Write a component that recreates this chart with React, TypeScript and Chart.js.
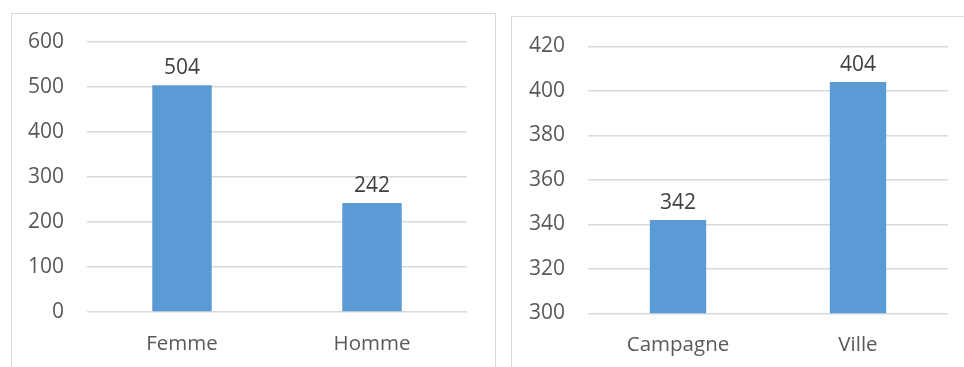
import React, { useEffect, useRef } from "react";
import { Chart, registerables } from "chart.js";

Chart.register(...registerables);

const genderLabels = ["Femme", "Homme"];
const genderValues = [504, 242];
const genderTicks = { min: 0, max: 600, step: 100 };

const areaLabels = ["Campagne", "Ville"];
const areaValues = [342, 404];
const areaTicks = { min: 300, max: 420, step: 20 };

const FONT = "'Open Sans', 'Liberation Sans', sans-serif";
const BAR_COLOR = "#5b9bd5";
const GRID_COLOR = "#d9d9d9";
const TICK_COLOR = "#595959";
const LABEL_COLOR = "#404040";

const valueLabelPlugin = {
  id: "valueLabels",
  afterDatasetsDraw(chart: any) {
    const ctx = chart.ctx;
    ctx.save();
    ctx.font = `21px ${FONT}`;
    ctx.fillStyle = LABEL_COLOR;
    ctx.textAlign = "center";
    ctx.textBaseline = "alphabetic";
    chart.data.datasets.forEach((ds: any, di: number) => {
      const meta = chart.getDatasetMeta(di);
      meta.data.forEach((bar: any, i: number) => {
        ctx.fillText(String(ds.data[i]), bar.x, bar.y - 11);
      });
    });
    ctx.restore();
  },
};

type BarProps = {
  labels: string[];
  values: number[];
  ticks: { min: number; max: number; step: number };
  left: number;
  top: number;
  width: number;
  height: number;
  padRight: number;
  padTop: number;
  axisW: number;
  axisH: number;
};

function BarChart(p: BarProps) {
  const ref = useRef<HTMLCanvasElement>(null);
  useEffect(() => {
    if (!ref.current) return;
    const chart = new Chart(ref.current, {
      type: "bar",
      data: {
        labels: p.labels,
        datasets: [
          {
            data: p.values,
            backgroundColor: BAR_COLOR,
            borderWidth: 0,
            categoryPercentage: 1,
            barPercentage: 0.313,
          },
        ],
      },
      options: {
        animation: false,
        responsive: false,
        maintainAspectRatio: false,
        layout: { padding: { left: 0, top: p.padTop, right: p.padRight, bottom: 0 } },
        plugins: { legend: { display: false }, tooltip: { enabled: false } },
        scales: {
          x: {
            grid: { display: false, drawTicks: false },
            border: { display: false },
            ticks: { color: TICK_COLOR, font: { family: FONT, size: 20.5 }, padding: 20 },
            afterFit: (s: any) => {
              s.height = p.axisH;
            },
          },
          y: {
            min: p.ticks.min,
            max: p.ticks.max,
            grid: {
              color: GRID_COLOR,
              lineWidth: 1.5,
              drawTicks: true,
              tickLength: 23,
              tickColor: "rgba(0,0,0,0)",
            },
            border: { display: false },
            ticks: {
              stepSize: p.ticks.step,
              color: TICK_COLOR,
              font: { family: FONT, size: 21 },
              padding: 0,
            },
            afterFit: (s: any) => {
              s.width = p.axisW;
            },
          },
        },
      },
      plugins: [valueLabelPlugin],
    } as any);
    return () => chart.destroy();
  }, []);
  return (
    <canvas
      ref={ref}
      width={p.width}
      height={p.height}
      style={{ position: "absolute", left: p.left, top: p.top, width: p.width, height: p.height }}
    />
  );
}

export default function App() {
  return (
    <div
      style={{
        position: "fixed",
        left: 0,
        top: 0,
        width: 964,
        height: 367,
        overflow: "hidden",
        background: "#ffffff",
      }}
    >
      <div
        style={{
          position: "absolute",
          left: 11,
          top: 13,
          width: 485,
          height: 400,
          boxSizing: "border-box",
          border: `1.5px solid ${GRID_COLOR}`,
        }}
      />
      <div
        style={{
          position: "absolute",
          left: 511,
          top: 16,
          width: 500,
          height: 400,
          boxSizing: "border-box",
          border: `1.5px solid ${GRID_COLOR}`,
        }}
      />
      <BarChart
        labels={genderLabels}
        values={genderValues}
        ticks={genderTicks}
        left={11}
        top={13}
        width={485}
        height={354}
        padRight={29}
        padTop={29}
        axisW={76}
        axisH={55}
      />
      <BarChart
        labels={areaLabels}
        values={areaValues}
        ticks={areaTicks}
        left={512}
        top={17}
        width={452}
        height={350}
        padRight={16}
        padTop={29.5}
        axisW={76}
        axisH={53.7}
      />
    </div>
  );
}
